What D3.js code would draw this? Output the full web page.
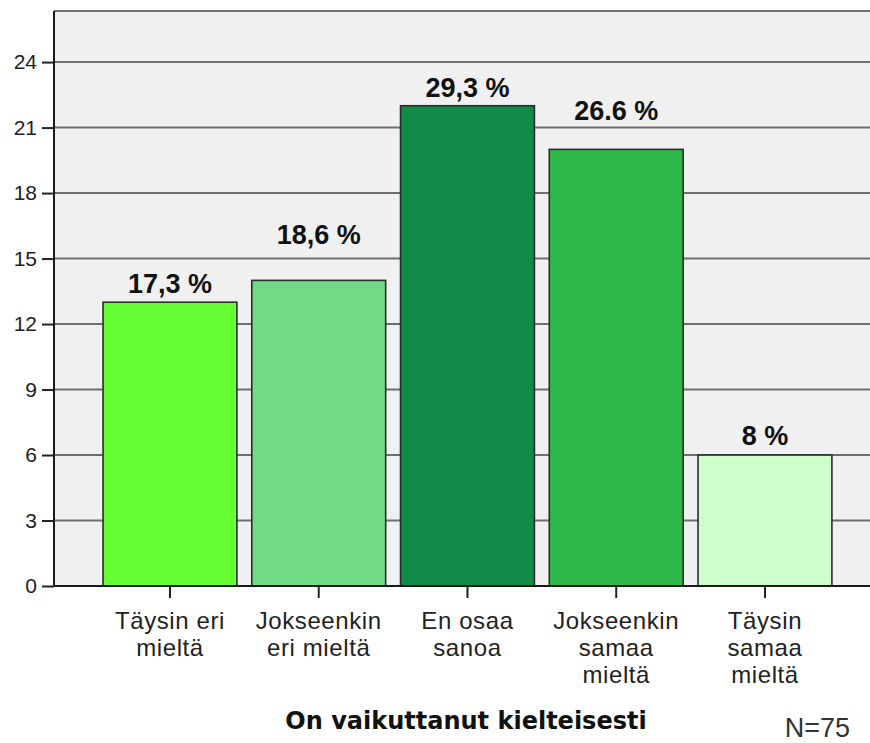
<!DOCTYPE html>
<html>
<head>
<meta charset="utf-8">
<script src="https://cdn.jsdelivr.net/npm/d3@7"></script>
<style>
  html, body { margin: 0; padding: 0; background: #ffffff; }
  svg { display: block; }
</style>
</head>
<body>
<svg id="chart" width="870" height="743"></svg>
<script>
// ---- data ----
const categories = [
  ["Täysin eri", "mieltä"],
  ["Jokseenkin", "eri mieltä"],
  ["En osaa", "sanoa"],
  ["Jokseenkin", "samaa", "mieltä"],
  ["Täysin", "samaa", "mieltä"]
];
const counts = [13, 14, 22, 20, 6];
const percentLabels = ["17,3 %", "18,6 %", "29,3 %", "26.6 %", "8 %"];
const barColors = ["#66ff33", "#70da86", "#108c48", "#2fb84a", "#ccffcc"];
const yTicks = [0, 3, 6, 9, 12, 15, 18, 21, 24];
const axisTitle = "On vaikuttanut kielteisesti";
const nLabel = "N=75";

// ---- layout ----
const plot = { left: 54, top: 11, right: 880, bottom: 586 };
const labelRaise = [9, 36, 9, 29, 10]; // label baseline distance above bar top (px)

const svg = d3.select("#chart");

const y = d3.scaleLinear().domain([0, 26.34]).range([plot.bottom, plot.top]);
const x = d3.scaleBand()
  .domain(d3.range(categories.length))
  .range([95.6, 839.35])
  .paddingInner(0.1)
  .paddingOuter(0.05);

// plot background
svg.append("rect")
  .attr("x", plot.left).attr("y", plot.top)
  .attr("width", plot.right - plot.left).attr("height", plot.bottom - plot.top)
  .attr("fill", "#f0f0f0");

// top border
svg.append("line")
  .attr("x1", plot.left).attr("x2", plot.right)
  .attr("y1", plot.top).attr("y2", plot.top)
  .attr("stroke", "#707070").attr("stroke-width", 2);

// gridlines
svg.append("g").selectAll("line")
  .data(yTicks.filter(d => d > 0))
  .join("line")
  .attr("x1", plot.left).attr("x2", plot.right)
  .attr("y1", d => y(d)).attr("y2", d => y(d))
  .attr("stroke", "#6e6e6e").attr("stroke-width", 2);

// bars
svg.append("g").selectAll("rect")
  .data(counts)
  .join("rect")
  .attr("x", (d, i) => x(i))
  .attr("y", d => y(d))
  .attr("width", x.bandwidth())
  .attr("height", d => y(0) - y(d))
  .attr("fill", (d, i) => barColors[i])
  .attr("stroke", "#2b2b2b").attr("stroke-width", 1.6);

// y axis
const yAxis = d3.axisLeft(y).tickValues(yTicks).tickSize(12).tickPadding(5).tickFormat(d3.format("d"));
const gy = svg.append("g").attr("transform", `translate(${plot.left},0)`).call(yAxis);
gy.select(".domain").remove();
gy.selectAll(".tick line").attr("stroke", "#222").attr("stroke-width", 2);
gy.selectAll(".tick text")
  .attr("font-family", "Liberation Sans, Arial, sans-serif")
  .attr("font-size", 21).attr("fill", "#222");
svg.append("line")
  .attr("x1", plot.left).attr("x2", plot.left)
  .attr("y1", plot.top).attr("y2", plot.bottom + 1)
  .attr("stroke", "#1a1a1a").attr("stroke-width", 2);

// x axis
const xAxis = d3.axisBottom(x).tickSize(12).tickFormat(() => "");
const gx = svg.append("g").attr("transform", `translate(0,${plot.bottom})`).call(xAxis);
gx.select(".domain").remove();
gx.selectAll(".tick line").attr("stroke", "#222").attr("stroke-width", 2);
svg.append("line")
  .attr("x1", plot.left - 1).attr("x2", plot.right)
  .attr("y1", plot.bottom).attr("y2", plot.bottom)
  .attr("stroke", "#1a1a1a").attr("stroke-width", 2);

// category labels
const catG = svg.append("g")
  .attr("font-family", "Liberation Sans, Arial, sans-serif")
  .attr("font-size", 24).attr("letter-spacing", 0.6)
  .attr("fill", "#222").attr("text-anchor", "middle");
categories.forEach((lines, i) => {
  const t = catG.append("text").attr("x", x(i) + x.bandwidth() / 2).attr("y", 629);
  lines.forEach((ln, j) => {
    t.append("tspan").attr("x", x(i) + x.bandwidth() / 2).attr("y", 629 + j * 27).text(ln);
  });
});

// percent labels
svg.append("g").selectAll("text")
  .data(counts)
  .join("text")
  .attr("x", (d, i) => x(i) + x.bandwidth() / 2)
  .attr("y", (d, i) => y(d) - labelRaise[i])
  .attr("text-anchor", "middle")
  .attr("font-family", "Liberation Sans, Arial, sans-serif")
  .attr("font-weight", "bold").attr("font-size", 27).attr("fill", "#111")
  .text((d, i) => percentLabels[i]);

// axis title
svg.append("text")
  .attr("x", 466).attr("y", 729)
  .attr("text-anchor", "middle")
  .attr("font-family", "DejaVu Sans, Verdana, sans-serif")
  .attr("font-weight", "bold").attr("font-size", 24).attr("fill", "#111")
  .text(axisTitle);

// N label
svg.append("text")
  .attr("x", 850).attr("y", 737)
  .attr("text-anchor", "end")
  .attr("font-family", "Liberation Sans, Arial, sans-serif")
  .attr("font-size", 27).attr("fill", "#333")
  .text(nLabel);
</script>
</body>
</html>
